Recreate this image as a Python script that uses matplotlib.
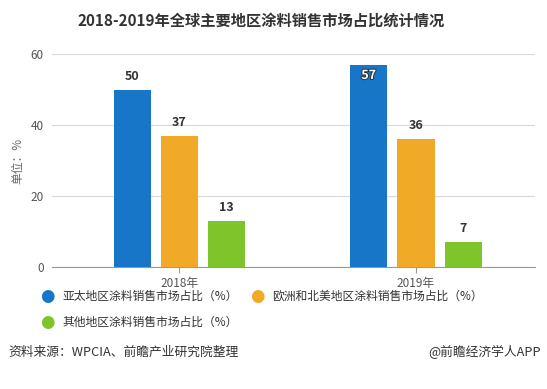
import matplotlib.pyplot as plt
import matplotlib.patheffects as pe
import numpy as np

plt.rcParams['font.family'] = ['Noto Sans CJK SC', 'DejaVu Sans']

# 数据
years = ['2018年', '2019年']
asia = [50, 57]
eu_na = [37, 36]
other = [13, 7]
names = ['亚太地区涂料销售市场占比（%）', '欧洲和北美地区涂料销售市场占比（%）', '其他地区涂料销售市场占比（%）']
colors = ['#1776c8', '#f0aa28', '#7dc52a']

fig = plt.figure(figsize=(5.47, 3.89), dpi=100)
ax = fig.add_axes([0.095, 0.314, 0.883, 0.547])

x = np.arange(len(years))
w = 0.157
step = 0.2
series = [asia, eu_na, other]
for i, vals in enumerate(series):
    bars = ax.bar(x + (i - 1) * step, vals, width=w, color=colors[i], zorder=3)
    for b, v in zip(bars, vals):
        cx = b.get_x() + b.get_width() / 2
        if v > 55:
            t = ax.text(cx, v - 1.2, str(v), ha='center', va='top', fontsize=9,
                        fontweight='bold', color='white', zorder=4)
            t.set_path_effects([pe.withStroke(linewidth=1.5, foreground='#333333')])
        else:
            ax.text(cx, v + 1.9, str(v), ha='center', va='bottom', fontsize=9,
                    fontweight='bold', color='#333333', zorder=4)

ax.set_ylim(0, 60)
ax.set_xlim(-0.539, 1.503)
ax.set_yticks([0, 20, 40, 60])
ax.set_xticks(x)
ax.set_xticklabels(years)
ax.grid(axis='y', color='#d9d9d9', linewidth=0.8, zorder=0)
for s in ['top', 'right', 'left']:
    ax.spines[s].set_visible(False)
ax.spines['bottom'].set_color('#999999')
ax.tick_params(axis='y', length=0, pad=6, labelsize=8.5, labelcolor='#555555')
ax.tick_params(axis='x', length=4, color='#999999', labelsize=8.5, labelcolor='#555555')
ax.set_ylabel('单位：%', fontsize=8.5, color='#666666', labelpad=4)

fig.text(0.478, 0.948, '2018-2019年全球主要地区涂料销售市场占比统计情况', ha='center', va='center',
         fontsize=11, fontweight='bold', color='#333333')

# 图例
leg_pos = [(47, 296), (257, 296), (47, 322)]
for (px, py), name, c in zip(leg_pos, names, colors):
    fig.text(px / 547, 1 - py / 389, '●', ha='center', va='center', fontsize=12,
             color=c, family=['DejaVu Sans'])
    fig.text((px + 15) / 547, 1 - py / 389, name, ha='left', va='center', fontsize=8.5,
             color='#333333')

fig.text(8 / 547, 1 - 352 / 389, '资料来源：WPCIA、前瞻产业研究院整理', ha='left', va='center',
         fontsize=9.2, color='#333333')
fig.text(541 / 547, 1 - 352 / 389, '@前瞻经济学人APP', ha='right', va='center',
         fontsize=9.2, color='#333333')

fig.savefig('out.png', dpi=100)
